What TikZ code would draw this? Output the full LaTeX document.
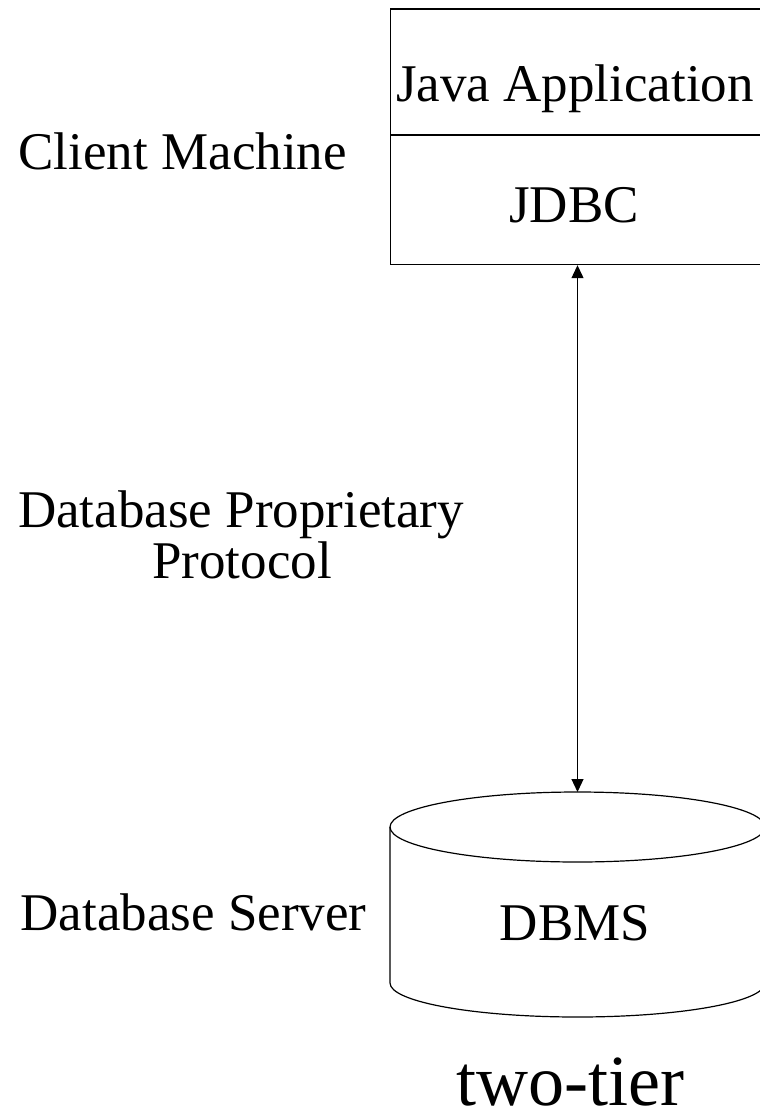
\documentclass[tikz,border=0pt]{standalone}
\usepackage{fontspec}
\setmainfont{Liberation Serif}
\usetikzlibrary{arrows.meta}
\begin{document}
\begin{tikzpicture}[x=1pt,y=-1pt,
  line width=1.2pt,
  label/.style={inner sep=0pt,font=\fontsize{53}{51}\selectfont},
  title/.style={inner sep=0pt,text depth=0pt,font=\fontsize{72}{76}\selectfont},
  link/.style={{Triangle[length=13pt,width=12pt]}-{Triangle[length=13pt,width=12pt]},line width=1.2pt}]
\useasboundingbox (0,0) rectangle (760,1116);

% client machine: Java application on top of JDBC
\node[draw,inner sep=0pt,minimum width=376pt,minimum height=255.5pt,anchor=north west] (client) at (390,8.5) {};
\draw (client.west |- 0,135) -- (client.east |- 0,135);
\node[label,anchor=base] (app) at (575,101) {Java Application};
\node[label,anchor=base] (jdbc) at (574,222) {JDBC};
\node[label,anchor=base west] (clientlbl) at (18,169) {Client Machine};

% protocol label
\node[label,anchor=base] (proto1) at (241,527) {Database Proprietary};
\node[label,anchor=base] (proto2) at (242,578) {Protocol};

% database server cylinder
\coordinate (dbtop) at (577.5,792);
\draw (577.5,827) ellipse [x radius=187.5, y radius=35];
\draw (390,827) -- (390,983) arc[start angle=180,end angle=0,x radius=187.5,y radius=34] -- (765,827);
\node[label,anchor=base] (dbms) at (575,940) {DBMS};
\node[label,anchor=base west] (serverlbl) at (20,930) {Database Server};

% connection between client and server
\draw[link] (client.south -| dbtop) -- (dbtop);

\node[title,anchor=base] (caption) at (570,1105) {two-tier};
\end{tikzpicture}
\end{document}
